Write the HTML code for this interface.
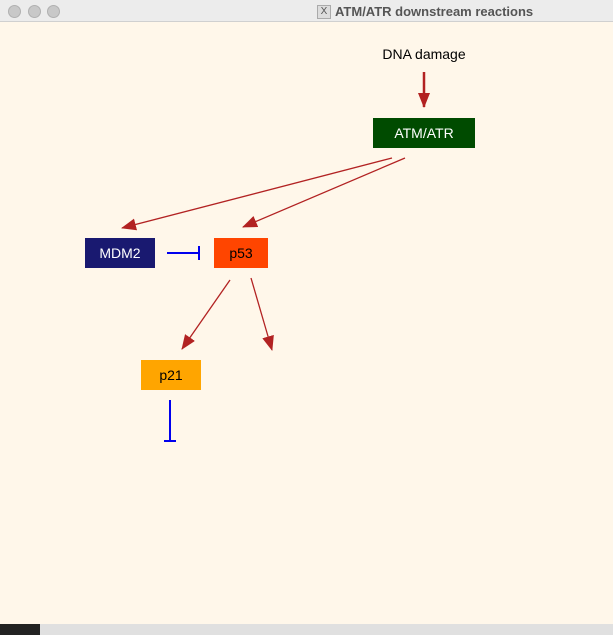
<html><body style="margin:0;width:613px;height:635px;overflow:hidden;background:#fff;font-family:'Liberation Sans',sans-serif">
<div style="position:absolute;left:0;top:0;width:613px;height:21px;background:#ececec;border-bottom:1px solid #d0d0d0"></div>
<div style="position:absolute;left:8px;top:5px;width:11px;height:11px;border-radius:50%;background:#c8c8c8;border:1px solid #b0b0b0"></div>
<div style="position:absolute;left:28px;top:5px;width:11px;height:11px;border-radius:50%;background:#c8c8c8;border:1px solid #b0b0b0"></div>
<div style="position:absolute;left:47px;top:5px;width:11px;height:11px;border-radius:50%;background:#c8c8c8;border:1px solid #b0b0b0"></div>
<div style="position:absolute;left:317px;top:5px;width:12px;height:12px;background:#ddd;border:1px solid #aaa;font-size:10px;line-height:12px;text-align:center;color:#555">X</div>
<div style="position:absolute;left:335px;top:4px;font-size:13px;font-weight:bold;color:#555">ATM/ATR downstream reactions</div>
<div style="position:absolute;left:0;top:22px;width:613px;height:602px;background:#fff7ea"></div>
<div style="position:absolute;left:0;top:624px;width:613px;height:11px;background:#e0e0e0"></div>
<div style="position:absolute;left:0;top:624px;width:40px;height:11px;background:#222"></div>
<svg width="613" height="635" style="position:absolute;left:0;top:0">
<defs><marker id="a" markerWidth="15" markerHeight="12" refX="14" refY="6" orient="auto" markerUnits="userSpaceOnUse"><path d="M0,0L15,6L0,12z" fill="#b22222"/></marker></defs>
<g stroke="#b22222" stroke-width="1.3" fill="none" marker-end="url(#a)">
<line x1="424" y1="72" x2="424" y2="107" stroke-width="2.5"/>
<line x1="392" y1="158" x2="122" y2="228"/>
<line x1="405" y1="158" x2="243" y2="227"/>
<line x1="230" y1="280" x2="182" y2="349"/>
<line x1="251" y1="278" x2="272" y2="350"/>
</g>
<g stroke="#0000ee" stroke-width="2">
<line x1="167" y1="253" x2="199" y2="253"/><line x1="199" y1="246" x2="199" y2="260"/>
<line x1="170" y1="400" x2="170" y2="441"/><line x1="164" y1="441" x2="176" y2="441"/>
</g>
</svg>
<div style="position:absolute;left:373px;top:46px;width:102px;text-align:center;font-size:14px;font-weight:500">DNA damage</div>
<div style="position:absolute;left:373px;top:118px;width:102px;height:30px;background:#004b00;color:#fff;font-size:14px;line-height:30px;text-align:center">ATM/ATR</div>
<div style="position:absolute;left:85px;top:238px;width:70px;height:30px;background:#191970;color:#fff;font-size:14px;line-height:30px;text-align:center">MDM2</div>
<div style="position:absolute;left:214px;top:238px;width:54px;height:30px;background:#ff4500;color:#000;font-size:14px;line-height:30px;text-align:center">p53</div>
<div style="position:absolute;left:141px;top:360px;width:60px;height:30px;background:#ffa500;color:#000;font-size:14px;line-height:30px;text-align:center">p21</div>
</body></html>
